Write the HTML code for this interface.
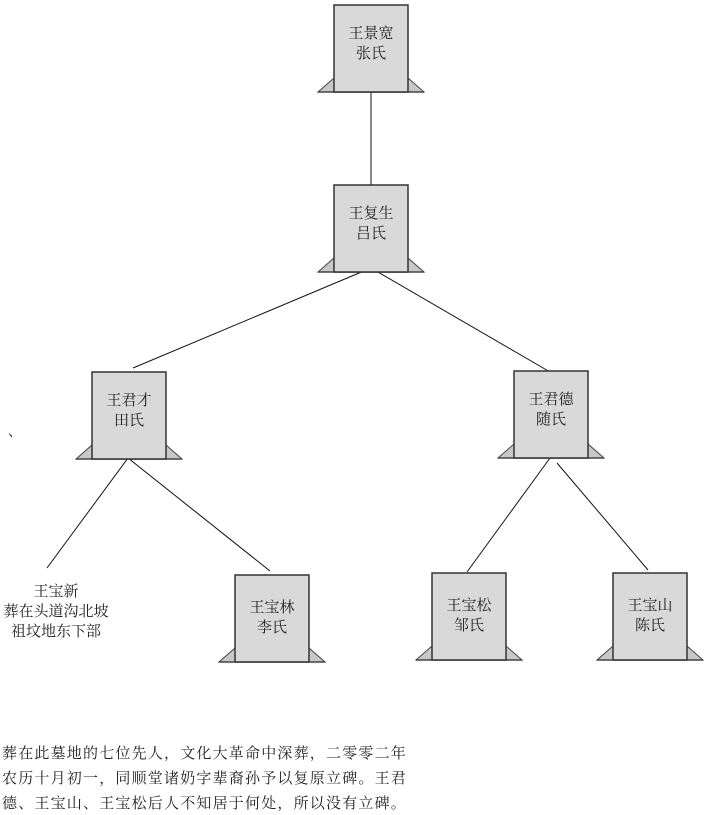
<!DOCTYPE html>
<html><head><meta charset="utf-8"><style>
html,body{margin:0;padding:0;background:#fff;}
svg{display:block;}
text{font-family:"Liberation Serif","Noto Serif CJK SC","Noto Sans CJK SC",serif;fill:#222;}
</style></head><body>
<svg width="706" height="815" viewBox="0 0 706 815" xmlns="http://www.w3.org/2000/svg">
<defs>
<g id="stone">
<polygon points="-37,73 -53,87 -37,87" fill="#c8c8c8" stroke="#444" stroke-width="1"/>
<polygon points="37,73 53,87 37,87" fill="#c8c8c8" stroke="#444" stroke-width="1"/>
<line x1="-53" y1="87" x2="53" y2="87" stroke="#444" stroke-width="1.5"/>
<rect x="-37" y="0" width="74" height="87" fill="#d9d9d9" stroke="#333" stroke-width="1.5"/>
</g>
</defs>
<g stroke="#111" stroke-width="1" fill="none">
<line x1="371" y1="92" x2="371" y2="185"/>
<line x1="371" y1="268" x2="133" y2="368"/>
<line x1="371" y1="268" x2="550" y2="372"/>
<line x1="128" y1="458" x2="47" y2="568"/>
<line x1="128" y1="458" x2="270" y2="571"/>
<line x1="550" y1="458" x2="467" y2="572"/>
<line x1="557" y1="463" x2="648" y2="570"/>
</g>
<use href="#stone" x="371" y="5"/>
<use href="#stone" x="371" y="185"/>
<use href="#stone" x="129" y="372"/>
<use href="#stone" x="551" y="371"/>
<use href="#stone" x="272" y="575"/>
<use href="#stone" x="469" y="573"/>
<use href="#stone" x="650" y="573"/>
<g font-size="15" text-anchor="middle">
<text x="371" y="38">王景宽</text><text x="371" y="58">张氏</text>
<text x="371" y="218">王复生</text><text x="371" y="238">吕氏</text>
<text x="129" y="405">王君才</text><text x="129" y="425">田氏</text>
<text x="551" y="404">王君德</text><text x="551" y="424">随氏</text>
<text x="272" y="612">王宝林</text><text x="272" y="632">李氏</text>
<text x="469" y="610">王宝松</text><text x="469" y="630">邹氏</text>
<text x="650" y="610">王宝山</text><text x="650" y="630">陈氏</text>
<text x="56" y="596">王宝新</text>
<text x="56" y="616">葬在头道沟北坡</text>
<text x="56" y="636">祖坟地东下部</text>
</g>
<text x="8" y="436" font-size="14">、</text>
<g font-size="15" letter-spacing="1.2">
<text x="2" y="758">葬在此墓地的七位先人，文化大革命中深葬，二零零二年</text>
<text x="2" y="783">农历十月初一，同顺堂诸奶字辈裔孙予以复原立碑。王君</text>
<text x="2" y="808">德、王宝山、王宝松后人不知居于何处，所以没有立碑。</text>
</g>
</svg>
</body></html>
